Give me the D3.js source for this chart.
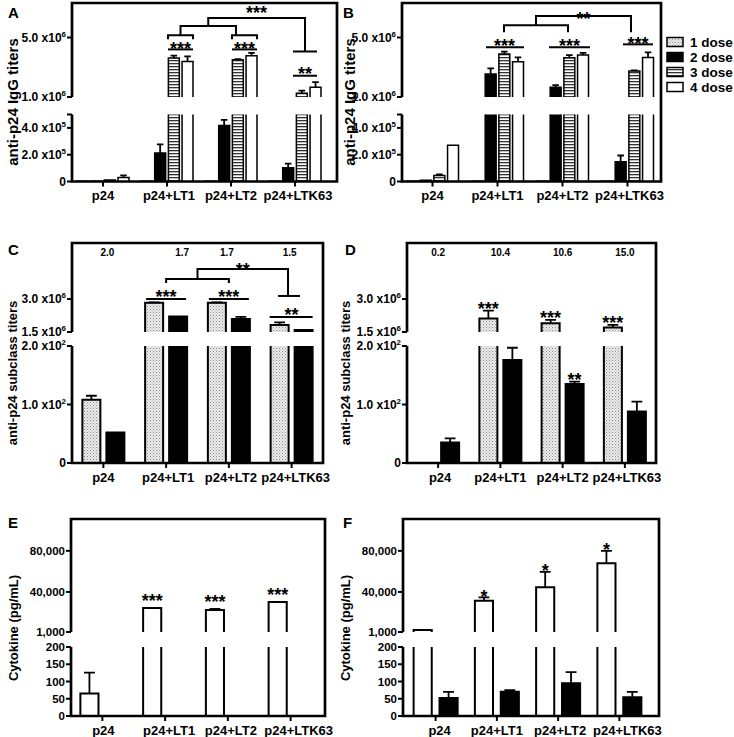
<!DOCTYPE html>
<html><head><meta charset="utf-8">
<script src="https://cdn.jsdelivr.net/npm/d3@7"></script>
<style>
body{margin:0;background:#fff}
text{font-family:"Liberation Sans",Arial,sans-serif;font-weight:bold;fill:#000}
</style>
</head><body>
<svg id="c" width="734" height="737"></svg>
<script>
// ---------------- DATA ----------------
const groups = ["p24", "p24+LT1", "p24+LT2", "p24+LTK63"];
const doses = ["1 dose", "2 dose", "3 dose", "4 dose"];

// Panel A: anti-p24 IgG titers
const aDose1 = [1000, 2500, 2500, 2500];
const aDose2 = [2500, 213000, 417000, 103000];
const aDose2Err = [0, 64000, 43000, 30000];
const aDose3 = [12000, 3620000, 3500000, 1250000];
const aDose3Err = [0, 160000, 50000, 180000];
const aDose4 = [30000, 3390000, 3780000, 1660000];
const aDose4Err = [15000, 340000, 180000, 340000];

// Panel B
const bDose1 = [1000, 2500, 2500, 2500];
const bDose2 = [10000, 2540000, 1650000, 147000];
const bDose2Err = [0, 390000, 150000, 47000];
const bDose3 = [45000, 3890000, 3640000, 2740000];
const bDose3Err = [8000, 160000, 180000, 50000];
const bDose4 = [270000, 3370000, 3820000, 3660000];
const bDose4Err = [0, 300000, 150000, 340000];

// Panel C: subclass titers (IgG1 dotted, IgG2a black)
const cIgG1 = [108, 2830000, 2830000, 1820000];
const cIgG1Err = [7, 20000, 20000, 120000];
const cIgG2a = [52, 2200000, 2090000, 1590000];
const cIgG2aErr = [0, 0, 100000, 0];
const cRatio = ["2.0", "1.7", "1.7", "1.5"];

// Panel D
const dIgG1 = [0, 2120000, 1900000, 1700000];
const dIgG1Err = [0, 350000, 150000, 120000];
const dIgG2a = [35, 176, 135, 88];
const dIgG2aErr = [7, 21, 4, 17];
const dRatio = ["0.2", "10.4", "10.6", "15.0"];
const dSig1 = ["", "***", "***", "***"];
const dSig2 = ["", "", "**", ""];

// Panel E: cytokine (white, black)
const eWhite = [65, 24400, 22500, 30300];
const eWhiteErr = [61, 0, 1000, 0];
const eBlack = [0, 0, 0, 0];
const eSig = ["", "***", "***", "***"];

// Panel F
const fWhite = [3000, 31500, 44600, 68000];
const fWhiteErr = [0, 3300, 15000, 12000];
const fBlack = [52, 70, 95, 54];
const fBlackErr = [18, 5, 32, 16];
const fSig = ["", "*", "*", "*"];

// Tick values / labels
const igLoTicks = [0, 2e5, 4e5];
const igLoLabels = [["0", ""], ["2.0 x10", "5"], ["4.0 x10", "5"]];
const igHiTicks = [1e6, 5e6];
const igHiLabels = [["1.0 x10", "6"], ["5.0 x10", "6"]];
const subLoTicks = [0, 100, 200];
const subLoLabels = [["0", ""], ["1.0 x10", "2"], ["2.0 x10", "2"]];
const subHiTicks = [1.5e6, 3e6];
const subHiLabels = [["1.5 x10", "6"], ["3.0 x10", "6"]];
const cytLoTicks = [0, 50, 100, 150, 200];
const cytLoLabels = [["0", ""], ["50", ""], ["100", ""], ["150", ""], ["200", ""]];
const cytHiTicks = [1000, 40000, 80000];
const cytHiLabels = [["1,000", ""], ["40,000", ""], ["80,000", ""]];

// ---------------- DRAW ----------------
const svg = d3.select("#c");
const defs = svg.append("defs");
const pd = defs.append("pattern").attr("id", "dots").attr("width", 3).attr("height", 3).attr("patternUnits", "userSpaceOnUse");
pd.append("rect").attr("width", 3).attr("height", 3).attr("fill", "#ececec");
pd.append("rect").attr("width", 1).attr("height", 1).attr("fill", "#8c8c8c");
pd.append("rect").attr("x", 1.5).attr("y", 1.5).attr("width", 1).attr("height", 1).attr("fill", "#a8a8a8");
const ps = defs.append("pattern").attr("id", "stripes").attr("width", 4).attr("height", 3).attr("patternUnits", "userSpaceOnUse");
ps.append("rect").attr("width", 4).attr("height", 3).attr("fill", "#fff");
ps.append("rect").attr("width", 4).attr("height", 1.3).attr("fill", "#333");

const FILL = {dots: "url(#dots)", black: "#000", stripes: "url(#stripes)", white: "#fff"};
const STAR_FS = 18;

function hline(g, x1, x2, y) {
  g.append("line").attr("x1", x1).attr("x2", x2).attr("y1", y).attr("y2", y)
    .attr("stroke", "#000").attr("stroke-width", 2);
}
function pth(g, d) {
  g.append("path").attr("d", d).attr("fill", "none").attr("stroke", "#000").attr("stroke-width", 2);
}
function stars(g, x, yc, s) {
  g.append("text").attr("x", x).attr("y", yc + STAR_FS * 0.6).attr("text-anchor", "middle")
    .attr("font-size", STAR_FS).text(s);
}

function drawPanel(p) {
  const g = svg.append("g");
  const x = d3.scaleBand().domain(groups).range(p.xr);
  const xi = d3.scaleBand().domain(d3.range(p.series.length)).range(p.inner).paddingInner(p.pin);
  const yLo = d3.scaleLinear().domain(p.lo).range([p.bottom, p.loTop]);
  const yHi = d3.scaleLinear().domain(p.hi).range([p.hiBottom, p.top]);
  const yv = v => v <= p.lo[1] ? yLo(v) : yHi(v);
  const gc = i => x(groups[i]) + x.bandwidth() / 2;
  const bw = xi.bandwidth();
  const bx = (gi, si) => gc(gi) + xi(si);

  // bars
  p.series.forEach((s, si) => {
    s.values.forEach((v, gi) => {
      if (!(v > 0)) return;
      const x0 = bx(gi, si);
      let yt;
      const sw = s.sw || p.sw;
      if (v <= p.lo[1]) {
        yt = yLo(v);
        g.append("rect").attr("x", x0).attr("y", yt).attr("width", bw).attr("height", p.bottom - yt).attr("fill", FILL[s.fill]);
        g.append("path").attr("d", `M${x0},${p.bottom}V${yt}H${x0 + bw}V${p.bottom}`)
          .attr("fill", "none").attr("stroke", "#000").attr("stroke-width", sw);
      } else {
        g.append("rect").attr("x", x0).attr("y", p.loTop).attr("width", bw).attr("height", p.bottom - p.loTop).attr("fill", FILL[s.fill]);
        g.append("path").attr("d", `M${x0},${p.bottom}V${p.loTop}M${x0 + bw},${p.loTop}V${p.bottom}`)
          .attr("fill", "none").attr("stroke", "#000").attr("stroke-width", sw);
        yt = yHi(v);
        g.append("rect").attr("x", x0).attr("y", yt).attr("width", bw).attr("height", p.hiBottom - yt).attr("fill", FILL[s.fill]);
        g.append("path").attr("d", `M${x0},${p.hiBottom}V${yt}H${x0 + bw}V${p.hiBottom}`)
          .attr("fill", "none").attr("stroke", "#000").attr("stroke-width", sw);
      }
      const e = s.err ? s.err[gi] : 0;
      let ytop = yt;
      if (e > 0) {
        const ye = yv(v + e);
        const cx = x0 + bw / 2, cw = bw * 0.3;
        g.append("path").attr("d", `M${cx},${yt}V${ye}M${cx - cw},${ye}H${cx + cw}`)
          .attr("fill", "none").attr("stroke", "#000").attr("stroke-width", 1.8);
        ytop = ye;
      }
      if (s.sig && s.sig[gi]) stars(g, x0 + bw / 2, ytop - p.sigGap, s.sig[gi]);
    });
  });

  // axes and frame
  g.append("path")
    .attr("d", `M${p.left},${p.hiBottom}V${p.top}H${p.right}V${p.bottom}H${p.left}V${p.loTop}`)
    .attr("fill", "none").attr("stroke", "#000").attr("stroke-width", 2.7).attr("stroke-linejoin", "miter");
  const tickG = g.append("g");
  const addTicks = (vals, labels, sc) => {
    vals.forEach((v, i) => {
      const y = sc(v);
      tickG.append("line").attr("x1", p.left - 5).attr("x2", p.left).attr("y1", y).attr("y2", y)
        .attr("stroke", "#000").attr("stroke-width", 2);
      const t = tickG.append("text").attr("x", p.left - 6).attr("y", y).attr("dy", "0.36em")
        .attr("text-anchor", "end").attr("font-size", p.tfs);
      t.append("tspan").text(labels[i][0]);
      if (labels[i][1]) t.append("tspan").attr("font-size", p.tfs * 0.66).attr("dy", "-0.62em").text(labels[i][1]);
    });
  };
  addTicks(p.loTicks, p.loLabels, yLo);
  addTicks(p.hiTicks, p.hiLabels, yHi);
  if (p.loTicks[p.loTicks.length - 1] < p.lo[1]) {
    tickG.append("line").attr("x1", p.left - 5).attr("x2", p.left).attr("y1", p.loTop).attr("y2", p.loTop)
      .attr("stroke", "#000").attr("stroke-width", 2);
  }
  groups.forEach((gr, i) => {
    const cx = gc(i);
    g.append("line").attr("x1", cx).attr("x2", cx).attr("y1", p.bottom).attr("y2", p.bottom + 5)
      .attr("stroke", "#000").attr("stroke-width", 2);
    g.append("text").attr("x", cx + (p.labelDx ? p.labelDx[i] : 0)).attr("y", p.bottom + 18.5)
      .attr("text-anchor", "middle").attr("font-size", 13).text(gr);
  });

  // y label and letter
  g.append("text").attr("transform", `translate(${p.ylx},${p.yly}) rotate(-90)`)
    .attr("text-anchor", "middle").attr("font-size", p.ylfs).text(p.ylabel);
  g.append("text").attr("x", p.letter[0]).attr("y", p.letter[1]).attr("font-size", 15).text(p.id);

  if (p.ratio) {
    p.ratio.forEach((r, i) => {
      g.append("text").attr("x", gc(i) + (p.ratioDx ? p.ratioDx[i] : 0)).attr("y", p.top + 13)
        .attr("text-anchor", "middle").attr("font-size", 10).text(r);
    });
  }
  if (p.annot) p.annot({g, gc, yv, bx, bw});
}

const igBase = {lo: [0, 5e5], loTop: 114.5, hi: [1e6, 7.32e6], hiBottom: 97, top: 3, bottom: 181.5,
  loTicks: igLoTicks, loLabels: igLoLabels, hiTicks: igHiTicks, hiLabels: igHiLabels,
  inner: [-26, 26], pin: 0.2, sw: 1.5, tfs: 12, ylabel: "anti-p24 IgG titers", yly: 102, ylfs: 15};

drawPanel(Object.assign({}, igBase, {
  id: "A", left: 72, right: 337, xr: [71, 327], ylx: 18, letter: [8, 18], labelDx: [0, 2, 0, 3],
  series: [
    {values: aDose1, fill: "dots"},
    {values: aDose2, err: aDose2Err, fill: "black"},
    {values: aDose3, err: aDose3Err, fill: "stripes"},
    {values: aDose4, err: aDose4Err, fill: "white"}
  ],
  annot: ({g, gc, yv}) => {
    const c1 = gc(1), c2 = gc(2), c3 = gc(3);
    [c1, c2].forEach(c => {
      hline(g, c + 1, c + 26, yv(4.2e6));
      stars(g, c + 13.5, yv(4.54e6), "***");
      pth(g, `M${c + 1},${yv(4.88e6)}V${yv(5.15e6)}H${c + 26}V${yv(4.88e6)}`);
    });
    pth(g, `M${c1 + 13.5},${yv(5.15e6)}V${yv(5.77e6)}H${c2 + 5}V${yv(5.15e6)}`);
    const m = (c1 + 13.5 + c2 + 5) / 2;
    pth(g, `M${m},${yv(5.77e6)}V${yv(6.31e6)}H${c3 + 10}V${yv(4.06e6)}`);
    hline(g, c3 - 2, c3 + 22, yv(4.06e6));
    stars(g, (m + c3 + 10) / 2, yv(6.95e6), "***");
    hline(g, c3 - 2, c3 + 22, yv(2.43e6));
    stars(g, c3 + 10, yv(2.84e6), "**");
  }
}));

drawPanel(Object.assign({}, igBase, {
  id: "B", left: 402, right: 661, xr: [400, 660], ylx: 355, letter: [343, 18], labelDx: [0, 0, 0, 2],
  series: [
    {values: bDose1, fill: "dots"},
    {values: bDose2, err: bDose2Err, fill: "black"},
    {values: bDose3, err: bDose3Err, fill: "stripes"},
    {values: bDose4, err: bDose4Err, fill: "white"}
  ],
  annot: ({g, gc, yv}) => {
    const c1 = gc(1), c2 = gc(2), c3 = gc(3);
    hline(g, c1 - 11.5, c1 + 26.5, yv(4.34e6)); stars(g, c1 + 7, yv(4.74e6), "***");
    hline(g, c2 - 13.5, c2 + 27.5, yv(4.34e6)); stars(g, c2 + 7, yv(4.74e6), "***");
    hline(g, c3 - 4.5, c3 + 25.5, yv(4.54e6)); stars(g, c3 + 10.5, yv(4.88e6), "***");
    pth(g, `M${c1 + 6.5},${yv(5.36e6)}V${yv(5.83e6)}H${c2 + 5.5}V${yv(5.36e6)}`);
    const m = (c1 + 6.5 + c2 + 5.5) / 2;
    pth(g, `M${m},${yv(5.83e6)}V${yv(6.45e6)}H${c3 + 3.5}V${yv(5.36e6)}`);
    stars(g, (m + c3 + 3.5) / 2, yv(6.58e6), "**");
    // legend
    const fills = ["dots", "black", "stripes", "white"];
    doses.forEach((d, i) => {
      const y = 42 + i * 15;
      g.append("rect").attr("x", 667).attr("y", y - 4.5).attr("width", 16).attr("height", 9)
        .attr("fill", FILL[fills[i]]).attr("stroke", "#000").attr("stroke-width", 1.5);
      g.append("text").attr("x", 690).attr("y", y).attr("dy", "0.36em").attr("font-size", 13.5).text(d);
    });
  }
}));

const subBase = {lo: [0, 200], loTop: 346, hi: [1.5e6, 5.55e6], hiBottom: 332, top: 243, bottom: 463,
  loTicks: subLoTicks, loLabels: subLoLabels, hiTicks: subHiTicks, hiLabels: subHiLabels,
  inner: [-21, 21], pin: 0.25, sw: 2, tfs: 12, ylabel: "anti-p24 subclass titers", yly: 373, ylfs: 13};

drawPanel(Object.assign({}, subBase, {
  id: "C", left: 72, right: 323, xr: [72, 323], ylx: 17, letter: [8, 255],
  ratio: cRatio, ratioDx: [4, 16, -2, -2], labelDx: [0, 2, 2, 4],
  series: [
    {values: cIgG1, err: cIgG1Err, fill: "dots"},
    {values: cIgG2a, err: cIgG2aErr, fill: "black"}
  ],
  annot: ({g, gc, yv}) => {
    const c1 = gc(1), c2 = gc(2), c3 = gc(3);
    hline(g, c1 - 20, c1 + 20, yv(3.0e6)); stars(g, c1, yv(3.32e6), "***");
    hline(g, c2 - 20, c2 + 20, yv(3.0e6)); stars(g, c2, yv(3.32e6), "***");
    pth(g, `M${c1},${yv(3.73e6)}V${yv(3.91e6)}H${c2}V${yv(3.73e6)}`);
    const m = (c1 + c2) / 2;
    pth(g, `M${m},${yv(3.91e6)}V${yv(4.37e6)}H${c3 - 3.6}V${yv(3.14e6)}`);
    hline(g, c3 - 13.6, c3 + 8.4, yv(3.14e6));
    stars(g, (m + c3 - 3.6) / 2, yv(4.55e6), "**");
    hline(g, c3 - 22, c3 + 21, yv(2.18e6)); stars(g, c3, yv(2.5e6), "**");
  }
}));

drawPanel(Object.assign({}, subBase, {
  id: "D", left: 407, right: 656, xr: [407, 656], ylx: 350, letter: [345, 255],
  ratio: dRatio, sigGap: 6.5, labelDx: [2, 0, 0, 2],
  series: [
    {values: dIgG1, err: dIgG1Err, fill: "dots", sig: dSig1},
    {values: dIgG2a, err: dIgG2aErr, fill: "black", sig: dSig2}
  ]
}));

const cytBase = {lo: [0, 200], loTop: 647, hi: [1000, 111000], hiBottom: 632, top: 519, bottom: 716,
  loTicks: cytLoTicks, loLabels: cytLoLabels, hiTicks: cytHiTicks, hiLabels: cytHiLabels,
  inner: [-22, 22], pin: 0.3, sw: 2, tfs: 11.5, ylabel: "Cytokine (pg/mL)", yly: 628, ylfs: 13};

drawPanel(Object.assign({}, cytBase, {
  id: "E", left: 71, right: 325, xr: [71, 322], ylx: 18, letter: [8, 528], sigGap: 12,
  labelDx: [1, 4, 3, 8],
  series: [
    {values: eWhite, err: eWhiteErr, fill: "white", sig: eSig},
    {values: eBlack, fill: "black"}
  ]
}));

drawPanel(Object.assign({}, cytBase, {
  id: "F", left: 403, right: 659, xr: [405, 650], ylx: 350, letter: [343, 528], sigGap: 5.5,
  labelDx: [4, 0, 2, 8],
  series: [
    {values: fWhite, err: fWhiteErr, fill: "white", sig: fSig},
    {values: fBlack, err: fBlackErr, fill: "black"}
  ]
}));
</script>
</body></html>
